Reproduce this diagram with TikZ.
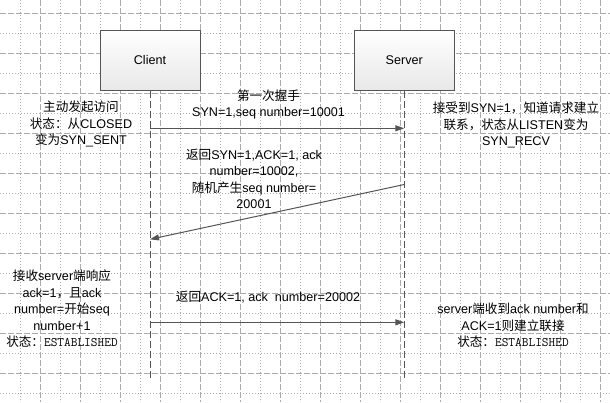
\documentclass[tikz,border=0pt]{standalone}
\usepackage{fontspec}
\setmainfont{Liberation Sans}
\newfontfamily\cjk{Noto Sans CJK SC}
\newcommand\monoest{{\fontsize{13}{16.5}\selectfont\ttfamily ESTABLISHED}}
\usetikzlibrary{arrows.meta}
\definecolor{linegray}{HTML}{555555}
\definecolor{gridgray}{HTML}{ABABAB}
\tikzset{
  minorgrid/.style={gridgray, line width=0.8pt, dash pattern=on 1pt off 2pt},
  majorgrid/.style={gridgray, line width=0.8pt, dash pattern=on 6pt off 2pt},
  actor/.style={draw=linegray, line width=1pt, top color=white, bottom color=black!9,
    minimum width=100pt, minimum height=60pt, inner sep=0pt, font=\fontsize{12.6}{15}\selectfont},
  lifeline/.style={linegray, line width=1pt, dash pattern=on 7pt off 3pt},
  msg/.style={linegray, line width=1pt, -{Triangle[length=9pt,width=6pt]}},
  txt/.style={align=center, inner sep=0pt, font=\fontsize{12.6}{16.5}\selectfont}
}
\begin{document}
\begin{tikzpicture}[x=1pt, y=-1pt]
\useasboundingbox (0,0) rectangle (610,402);
\fill[white] (0,0) rectangle (610,402);
% grid
\foreach \x in {20,60,...,600} \draw[minorgrid] (\x,0) -- (\x,402);
\foreach \x in {40,80,...,600} \draw[majorgrid] (\x,0) -- (\x,402);
\foreach \y in {33.33,73.33,...,400} \draw[minorgrid] (0,\y) -- (610,\y);
\foreach \y in {13.33,53.33,...,400} \draw[majorgrid] (0,\y) -- (610,\y);
% actors
\node[actor] (client) at (150,60.3) {Client};
\node[actor] (server) at (404.3,60.3) {Server};
\coordinate (cend) at (150,378);
\coordinate (send) at (404.3,378);
\draw[lifeline] (client.south) -- (cend);
\draw[lifeline] (server.south) -- (send);
% message points
\coordinate (c1) at (150,128.3);
\coordinate (s1) at (404.3,128.3);
\coordinate (s2) at (404.3,184.5);
\coordinate (c2) at (150,239.3);
\coordinate (c3) at (150,322.3);
\coordinate (s3) at (404.3,322.3);
\draw[msg] (c1) -- (s1);
\draw[msg] (s2) -- (c2);
\draw[msg] (c3) -- (s3);
% texts
\node[txt] (l1) at (81,124) {{\cjk 主动发起访问}\\{\cjk 状态：从}CLOSED\\{\cjk 变为}SYN\_SENT};
\node[txt] (a1) at (268.5,104.5) {{\cjk 第一次握手}\\SYN=1,seq number=10001};
\node[txt] (r1) at (516,125) {{\cjk 接受到}SYN=1{\cjk ，知道请求建立}\\{\cjk 联系，状态从}LISTEN{\cjk 变为}\\SYN\_RECV};
\node[txt] (a2) at (254,179) {{\cjk 返回}SYN=1,ACK=1, ack\\number=10002,\\{\cjk 随机产生}seq number=\\20001};
\node[txt] (l2) at (62,309) {{\cjk 接收}server{\cjk 端响应}\\ack=1{\cjk ，且}ack\\number={\cjk 开始}seq\\number+1\\{\cjk 状态：}\monoest};
\node[txt] (a3) at (268,297) {{\cjk 返回}ACK=1, ack\ \ number=20002};
\node[txt] (r2) at (513,325.5) {server{\cjk 端收到}ack number{\cjk 和}\\ACK=1{\cjk 则建立联接}\\{\cjk 状态：}\monoest};
\end{tikzpicture}
\end{document}
